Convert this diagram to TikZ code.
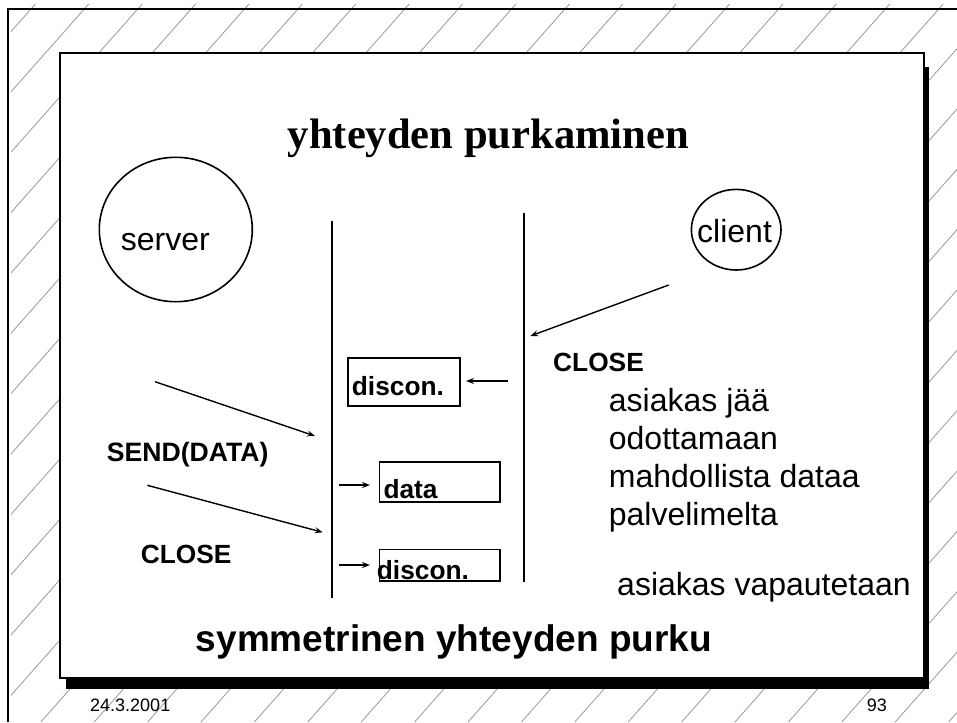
\documentclass[tikz,border=0pt]{standalone}
\usepackage{fontspec}
\setmainfont{Liberation Sans}
\newfontfamily\titleserif{Liberation Serif}
\usetikzlibrary{shapes.geometric,arrows.meta}
\begin{document}
\begin{tikzpicture}[x=1pt,y=-1pt,
  hatch/.style={draw=black!42,line width=0.75pt},
  lifeline/.style={line width=1.8pt},
  msg/.style={line width=1.4pt,-{Stealth[length=8pt,width=6pt,inset=3pt]}},
  boxnode/.style={draw,line width=1.6pt,rectangle,inner sep=0pt},
  oval/.style={draw,line width=1.6pt,ellipse,inner sep=0pt},
  lbl/.style={anchor=base west,inner sep=0pt},
  bigtxt/.style={font=\fontsize{32}{38}\selectfont},
  boldtxt/.style={font=\fontsize{26.3}{30}\selectfont\bfseries},
  foot/.style={font=\fontsize{18}{21}\selectfont}]
\useasboundingbox (0,0) rectangle (957,722);
\fill[white] (0,0) rectangle (957,722);
% hatching
\begin{scope}
  \clip (11,5) rectangle (957,722);
  \foreach \k in {0,...,30}{
    \pgfmathsetmacro\cc{38.9+53.4*\k}
    \draw[hatch] (\cc,0) -- ({\cc-638.9},722);
  }
\end{scope}
% outer frame
\draw[line width=1.3pt] (8,722) -- (8,9) -- (957,9);
% slide with shadow
\fill[black] (66,67) rectangle (929,689);
\draw[line width=1.2pt,fill=white] (60,53) rectangle (924,678);
% title
\node[anchor=base,inner sep=0pt,font=\fontsize{42.6}{48}\selectfont\titleserif\bfseries] (title) at (488.5,148.5) {yhteyden purkaminen};
% server / client
\node[oval,minimum width=153,minimum height=144.4] (server) at (175.8,229.5) {};
\node[lbl,bigtxt] (servertxt) at (120.7,250.7) {server};
\node[oval,minimum width=89.6,minimum height=80.6] (client) at (736.2,229.7) {};
\node[lbl,bigtxt] (clienttxt) at (697,242.7) {client};
% lifelines
\coordinate (l1top) at (331.7,221);
\coordinate (l1bot) at (331.7,598.3);
\coordinate (l2top) at (523.7,213.3);
\coordinate (l2bot) at (523.7,581.7);
\draw[lifeline] (l1top) -- (l1bot);
\draw[lifeline] (l2top) -- (l2bot);
% boxes
\node[boxnode,minimum width=112.3,minimum height=48.3] (box1) at (403.85,381.85) {};
\node[boxnode,minimum width=120.7,minimum height=40] (box2) at (439.65,481.7) {};
\node[boxnode,minimum width=120.7,minimum height=31.7] (box3) at (439.65,565.15) {};
\node[lbl,boldtxt] (box1txt) at (351.7,395) {discon.};
\node[lbl,boldtxt] (box2txt) at (383.3,498.3) {data};
\node[lbl,boldtxt] (box3txt) at (376.7,579.3) {discon.};
% arrows
\coordinate (ca) at (668.7,285);
\coordinate (cb) at (530.3,336);
\draw[msg] (ca) -- (cb);
\coordinate (d1a) at (508.3,381);
\coordinate (d1b) at (466,381);
\draw[msg] (d1a) -- (d1b);
\coordinate (d2a) at (339.3,485);
\coordinate (d2b) at (370,485);
\draw[msg] (d2a) -- (d2b);
\coordinate (d3a) at (339.3,565);
\coordinate (d3b) at (370,565);
\draw[msg] (d3a) -- (d3b);
\coordinate (s1a) at (155,381.7);
\coordinate (s1b) at (315,436);
\draw[msg] (s1a) -- (s1b);
\coordinate (s2a) at (147.3,485.3);
\coordinate (s2b) at (322.7,532.3);
\draw[msg] (s2a) -- (s2b);
% labels
\node[lbl,boldtxt,font=\fontsize{26.6}{30}\selectfont\bfseries] (send) at (106.7,461.7) {SEND(DATA)};
\node[lbl,boldtxt] (closel) at (140.7,563.3) {CLOSE};
\node[lbl,boldtxt] (closer) at (553,371.5) {CLOSE};
\node[lbl,bigtxt] (r1) at (608.7,411.7) {asiakas jää};
\node[lbl,bigtxt] (r2) at (608.7,449.3) {odottamaan};
\node[lbl,bigtxt] (r3) at (608.7,487.3) {mahdollista dataa};
\node[lbl,bigtxt] (r4) at (608.7,525.7) {palvelimelta};
\node[lbl,bigtxt] (r5) at (617,595) {asiakas vapautetaan};
\node[anchor=base,inner sep=0pt,font=\fontsize{37}{42}\selectfont\bfseries] (sym) at (453.9,651.7) {symmetrinen yhteyden purku};
% footer
\node[lbl,foot] (date) at (90,711) {24.3.2001};
\node[lbl,foot] (page) at (866.7,711.7) {93};
\end{tikzpicture}
\end{document}
